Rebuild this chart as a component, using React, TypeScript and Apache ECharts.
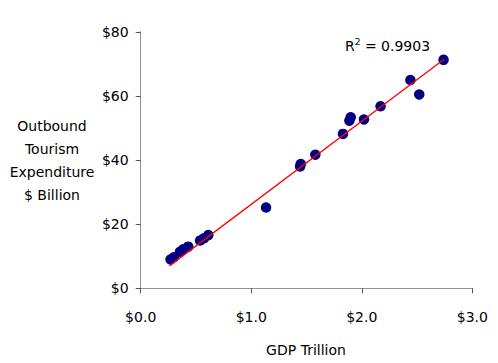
import React, { useEffect, useRef } from "react";
import * as echarts from "echarts";

const gdpTrillion = [0.27, 0.30, 0.355, 0.385, 0.43, 0.537, 0.573, 0.612, 1.134, 1.442, 1.448, 1.58, 1.83, 1.888, 1.90, 2.02, 2.17, 2.44, 2.52, 2.74];
const tourismBillion = [9.0, 9.7, 11.4, 12.2, 13.0, 14.9, 15.6, 16.6, 25.2, 38.0, 38.8, 41.7, 48.2, 52.3, 53.4, 52.7, 56.8, 65.0, 60.5, 71.3];
const trendX = [0.26, 2.745];
const trendY = [7.0, 71.5];
const xTicks = ["$0.0", "$1.0", "$2.0", "$3.0"];
const yTicks = ["$0", "$20", "$40", "$60", "$80"];
const rSquared = "0.9903";
const yAxisTitle = ["Outbound", "Tourism", "Expenditure", "$ Billion"];
const xAxisTitle = "GDP Trillion";

const FONT = "'Comic Sans MS', 'DejaVu Sans', sans-serif";

export default function App() {
  const ref = useRef<HTMLDivElement>(null);
  useEffect(() => {
    if (!ref.current) return;
    const chart = echarts.init(ref.current, null, { renderer: "svg" });
    const axisColor = "#555";
    chart.setOption({
      animation: false,
      backgroundColor: "#fff",
      grid: { left: 140.7, top: 32, right: 25.7, bottom: 74.7 },
      xAxis: [
        {
          type: "value",
          min: 0,
          max: 3,
          interval: 1,
          axisLine: { show: true, onZero: false, lineStyle: { color: axisColor, width: 1 } },
          axisTick: { show: true, length: 5, lineStyle: { color: axisColor } },
          axisLabel: {
            margin: 22,
            fontFamily: FONT,
            fontSize: 14,
            color: "#000",
            formatter: (v: number) => xTicks[Math.round(v)] ?? "",
          },
          splitLine: { show: false },
        },
        {
          type: "value",
          position: "top",
          min: 0,
          max: 3,
          interval: 1,
          axisLine: { show: true, lineStyle: { color: "#999", type: "dotted", width: 1 } },
          axisTick: { show: false },
          axisLabel: { show: false },
          splitLine: { show: false },
        },
      ],
      yAxis: [
        {
          type: "value",
          min: 0,
          max: 80,
          interval: 20,
          axisLine: { show: true, onZero: false, lineStyle: { color: axisColor, width: 1 } },
          axisTick: { show: true, length: 5, lineStyle: { color: axisColor } },
          axisLabel: {
            margin: 12,
            fontFamily: FONT,
            fontSize: 14,
            color: "#000",
            formatter: (v: number) => yTicks[Math.round(v / 20)] ?? "",
          },
          splitLine: { show: false },
        },
        {
          type: "value",
          position: "right",
          min: 0,
          max: 80,
          interval: 20,
          axisLine: { show: true, lineStyle: { color: "#999", type: "dotted", width: 1 } },
          axisTick: { show: false },
          axisLabel: { show: false },
          splitLine: { show: false },
        },
      ],
      graphic: [
        {
          type: "text",
          x: 52,
          y: 160.5,
          style: {
            text: yAxisTitle.join("\n"),
            fontFamily: FONT,
            fontSize: 14,
            lineHeight: 23,
            fill: "#000",
            align: "center",
            verticalAlign: "middle",
          },
        },
        {
          type: "text",
          x: 306,
          y: 350,
          style: {
            text: xAxisTitle,
            fontFamily: FONT,
            fontSize: 14,
            fill: "#000",
            align: "center",
            verticalAlign: "middle",
          },
        },
        {
          type: "text",
          x: 345,
          y: 45,
          style: {
            text: "{r|R}{s|2}{r| = " + rSquared + "}",
            rich: {
              r: { fontFamily: FONT, fontSize: 14, fill: "#000", verticalAlign: "bottom" },
              s: { fontFamily: FONT, fontSize: 9, fill: "#000", verticalAlign: "top", padding: [0, 0, 6, 0] },
            },
            align: "left",
            verticalAlign: "middle",
          },
        },
      ],
      series: [
        {
          type: "scatter",
          xAxisIndex: 0,
          yAxisIndex: 0,
          data: gdpTrillion.map((x, i) => [x, tourismBillion[i]]),
          symbol: "circle",
          symbolSize: 10.5,
          itemStyle: { color: "#000080", opacity: 1 },
          z: 2,
        },
        {
          type: "line",
          xAxisIndex: 0,
          yAxisIndex: 0,
          data: trendX.map((x, i) => [x, trendY[i]]),
          symbol: "none",
          lineStyle: { color: "#ff0000", width: 1.3 },
          z: 3,
        },
      ],
    });
    return () => chart.dispose();
  }, []);
  return (
    <div
      ref={ref}
      style={{ position: "fixed", left: 0, top: 0, width: 498, height: 363 }}
    />
  );
}
